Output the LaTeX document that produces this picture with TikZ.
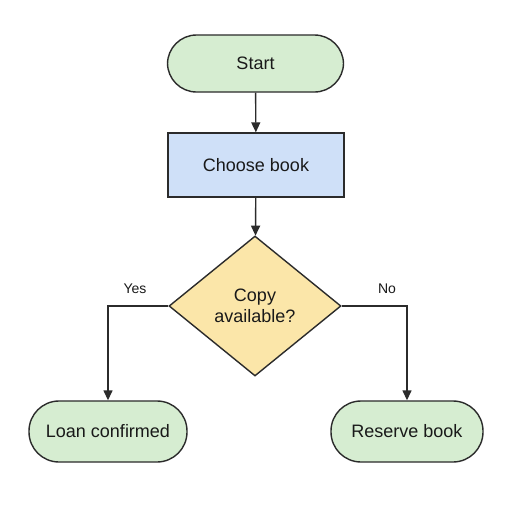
\documentclass[tikz,border=0pt]{standalone}
\usepackage{fontspec}
\setmainfont{Liberation Sans}
\usetikzlibrary{shapes.geometric,arrows.meta}
\definecolor{lgreen}{HTML}{D6EDD1}
\definecolor{lblue}{HTML}{CFE0F8}
\definecolor{lyellow}{HTML}{FBE6A9}
\definecolor{edge}{HTML}{2B2B2B}
\begin{document}
\begin{tikzpicture}[x=1pt,y=-1pt,
  base/.style={draw=edge,line width=1.4pt,font=\fontsize{18}{21}\selectfont,text=black!90,inner sep=0pt},
  term/.style={base,fill=lgreen,rounded corners=29pt},
  proc/.style={base,fill=lblue},
  dec/.style={base,fill=lyellow,diamond,align=center},
  flow/.style={draw=edge,line width=1.4pt,-{Triangle[length=10pt,width=9pt]}},
  lab/.style={font=\fontsize{14}{16}\selectfont,text=black!90}]
\useasboundingbox (0,0) rectangle (512,512);
\fill[white] (0,0) rectangle (512,512);
\node[term,minimum width=176pt,minimum height=57pt] (start) at (255.5,63.5) {Start};
\node[proc,minimum width=176pt,minimum height=64pt] (choose) at (256,165) {Choose book};
\node[dec,minimum width=172pt,minimum height=140pt] (copy) at (255,306) {Copy\\available?};
\node[term,minimum width=158pt,minimum height=61pt,rounded corners=30pt] (loan) at (108,431.5) {Loan confirmed};
\node[term,minimum width=152pt,minimum height=61pt,rounded corners=30pt] (reserve) at (407,431.5) {Reserve book};
\draw[flow] (start) -- (choose);
\draw[flow] (choose) -- (copy);
\draw[flow] (copy.west) -| (loan.north);
\draw[flow] (copy.east) -| (reserve.north);
\node[lab] (yes) at (135,289) {Yes};
\node[lab] (no) at (387,289) {No};
\end{tikzpicture}
\end{document}
